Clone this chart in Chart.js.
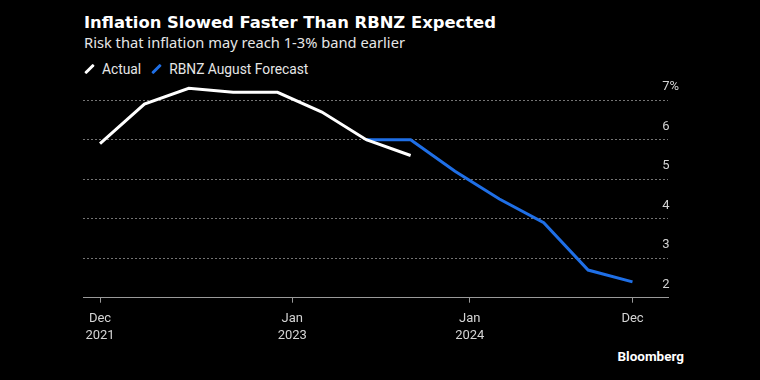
<!DOCTYPE html>
<html>
<head>
<meta charset="utf-8">
<script src="https://cdn.jsdelivr.net/npm/chart.js@4.4.1/dist/chart.umd.min.js"></script>
<style>
  html, body { margin: 0; padding: 0; background: #000; }
  #wrap { position: relative; width: 760px; height: 380px; background: #000; overflow: hidden; font-family: Roboto, "Liberation Sans", sans-serif; }
  #title { position: absolute; left: 84px; top: 13px; font-family: "DejaVu Sans", sans-serif; font-size: 16.4px; font-weight: 700; color: #fff; white-space: nowrap; }
  #subtitle { position: absolute; left: 84px; top: 32px; font-family: "Noto Sans", sans-serif; font-size: 14.7px; color: #e6e6e6; white-space: nowrap; }
  #legend { position: absolute; left: 84px; top: 61px; font-size: 13.8px; color: #e6e6e6; white-space: nowrap; }
  .item { display: inline-block; margin-right: 10px; }
  .sw { display: inline-block; width: 3px; height: 12px; transform: rotate(45deg); margin: 0 11px -1px 4px; border-radius: 1px; }
  #source { position: absolute; right: 76px; top: 348px; font-size: 13.5px; font-weight: 700; color: #fff; }
  canvas { position: absolute; left: 0; top: 0; }
</style>
</head>
<body>
<div id="wrap">
  <div id="title">Inflation Slowed Faster Than RBNZ Expected</div>
  <div id="subtitle">Risk that inflation may reach 1-3% band earlier</div>
  <div id="legend"></div>
  <div id="source">Bloomberg</div>
  <canvas id="c" width="760" height="380"></canvas>
</div>
<script>
// ---- data ----
const seriesNames = ['Actual', 'RBNZ August Forecast'];
const seriesColors = ['#ffffff', '#1f6fe6'];
const actualMonths = ['2021-12','2022-03','2022-06','2022-09','2022-12','2023-03','2023-06','2023-09'];
const actualValues = [5.9, 6.9, 7.3, 7.2, 7.2, 6.7, 6.0, 5.6];
const forecastMonths = ['2023-06','2023-09','2023-12','2024-03','2024-06','2024-09','2024-12'];
const forecastValues = [6.0, 6.0, 5.2, 4.5, 3.9, 2.7, 2.4];
const xTickMonths = ['2021-12','2023-01','2024-01','2024-12'];
const xTickLabels = [['Dec','2021'],['Jan','2023'],['Jan','2024'],['Dec','']];
const yTickValues = [2, 3, 4, 5, 6, 7];
const yTickLabels = ['2', '3', '4', '5', '6', '7%'];

function monthIndex(s) {
  const [y, m] = s.split('-').map(Number);
  return (y - 2021) * 12 + (m - 12);
}
const toPoints = (months, vals) => months.map((m, i) => ({ x: monthIndex(m), y: vals[i] }));

// legend
const legend = document.getElementById('legend');
seriesNames.forEach((n, i) => {
  const s = document.createElement('span');
  s.className = 'item';
  s.innerHTML = '<span class="sw" style="background:' + seriesColors[i] + '"></span>' + n;
  legend.appendChild(s);
});

const FONT = 'Roboto, "Liberation Sans", sans-serif';
new Chart(document.getElementById('c'), {
  type: 'line',
  data: {
    datasets: [
      { label: seriesNames[1], data: toPoints(forecastMonths, forecastValues), borderColor: seriesColors[1], borderWidth: 3, pointRadius: 0, tension: 0, order: 2 },
      { label: seriesNames[0], data: toPoints(actualMonths, actualValues), borderColor: seriesColors[0], borderWidth: 3, pointRadius: 0, tension: 0, order: 1 }
    ]
  },
  options: {
    responsive: false,
    animation: false,
    layout: { padding: { left: 83, right: 92, top: 84.4, bottom: 32.3 } },
    plugins: { legend: { display: false }, tooltip: { enabled: false } },
    scales: {
      x: {
        type: 'linear',
        min: -1.15,
        max: 38.4,
        afterBuildTicks: (s) => { s.ticks = xTickMonths.map(m => ({ value: monthIndex(m) })); },
        afterFit: (s) => { s.height = 50; },
        ticks: {
          autoSkip: false, maxRotation: 0, color: '#d4d4d4', padding: 7.5,
          font: { family: FONT, size: 13, lineHeight: 1.3 },
          callback: (v) => { const i = xTickMonths.map(monthIndex).indexOf(v); return i >= 0 ? xTickLabels[i] : ''; }
        },
        grid: { drawOnChartArea: false, drawTicks: true, tickLength: 5, tickColor: '#9a9a9a', tickWidth: 1 },
        border: { display: true, color: '#9a9a9a', width: 1 }
      },
      y: {
        type: 'linear',
        position: 'right',
        min: 2,
        max: 7.4,
        afterBuildTicks: (s) => { s.ticks = yTickValues.map(v => ({ value: v })); },
        afterFit: (s) => { s.width = 0; },
        ticks: {
          color: '#d4d4d4', mirror: true, crossAlign: 'far', padding: 11, labelOffset: -13,
          autoSkip: false,
          font: { family: FONT, size: 13 },
          callback: (v) => { const i = yTickValues.indexOf(v); return i >= 0 ? yTickLabels[i] : ''; }
        },
        grid: { drawTicks: false, color: '#747474', lineWidth: 1 },
        border: { display: false, dash: [2, 2] }
      }
    }
  }
});
</script>
</body>
</html>
